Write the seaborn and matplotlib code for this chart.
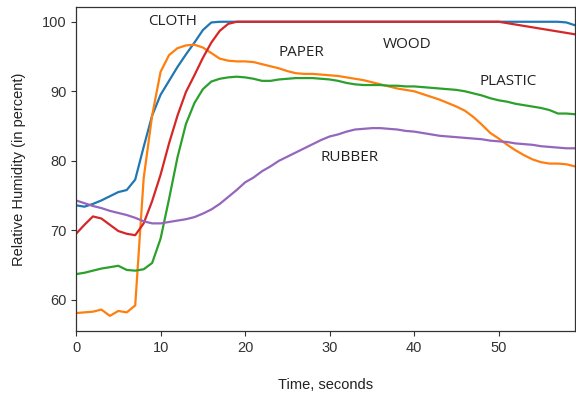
import matplotlib
matplotlib.use("Agg")
import matplotlib.pyplot as plt
import seaborn as sns
import pandas as pd

# Time axis in seconds
time_s = [0, 1, 2, 3, 4, 5, 6, 7, 8, 9,
          10, 11, 12, 13, 14, 15, 16, 17, 18, 19,
          20, 21, 22, 23, 24, 25, 26, 27, 28, 29,
          30, 31, 32, 33, 34, 35, 36, 37, 38, 39,
          40, 41, 42, 43, 44, 45, 46, 47, 48, 49,
          50, 51, 52, 53, 54, 55, 56, 57, 58, 59]

# Relative humidity readings (percent) for each material
cloth = [73.6, 73.4, 73.8, 74.3, 74.9, 75.5, 75.8, 77.3, 82.0, 86.5,
         89.5, 91.5, 93.5, 95.3, 97.0, 98.8, 99.9, 100.0, 100.0, 100.0,
         100.0, 100.0, 100.0, 100.0, 100.0, 100.0, 100.0, 100.0, 100.0, 100.0,
         100.0, 100.0, 100.0, 100.0, 100.0, 100.0, 100.0, 100.0, 100.0, 100.0,
         100.0, 100.0, 100.0, 100.0, 100.0, 100.0, 100.0, 100.0, 100.0, 100.0,
         100.0, 100.0, 100.0, 100.0, 100.0, 100.0, 100.0, 100.0, 99.9, 99.5]

paper = [58.1, 58.2, 58.3, 58.6, 57.7, 58.4, 58.2, 59.2, 77.5, 86.5,
         92.8, 95.2, 96.2, 96.6, 96.7, 96.3, 95.5, 94.7, 94.4, 94.3,
         94.3, 94.2, 93.9, 93.6, 93.3, 92.9, 92.6, 92.5, 92.5, 92.4,
         92.3, 92.2, 92.0, 91.8, 91.6, 91.3, 91.0, 90.7, 90.4, 90.2,
         90.0, 89.6, 89.2, 88.8, 88.3, 87.8, 87.2, 86.3, 85.2, 84.0,
         83.2, 82.3, 81.5, 80.8, 80.2, 79.8, 79.6, 79.6, 79.5, 79.2]

plastic = [63.7, 63.9, 64.2, 64.5, 64.7, 64.9, 64.3, 64.2, 64.4, 65.3,
           68.8, 74.5, 80.5, 85.3, 88.3, 90.3, 91.4, 91.8, 92.0, 92.1,
           92.0, 91.8, 91.5, 91.5, 91.7, 91.8, 91.9, 91.9, 91.9, 91.8,
           91.7, 91.5, 91.2, 91.0, 90.9, 90.9, 90.9, 90.8, 90.8, 90.7,
           90.7, 90.6, 90.5, 90.4, 90.3, 90.2, 90.0, 89.7, 89.4, 89.0,
           88.7, 88.5, 88.2, 88.0, 87.8, 87.6, 87.3, 86.8, 86.8, 86.7]

wood = [69.5, 70.8, 72.0, 71.7, 70.8, 69.9, 69.5, 69.3, 71.0, 74.2,
        78.0, 82.5, 86.5, 89.9, 92.3, 94.8, 97.0, 98.7, 99.7, 100.0,
        100.0, 100.0, 100.0, 100.0, 100.0, 100.0, 100.0, 100.0, 100.0, 100.0,
        100.0, 100.0, 100.0, 100.0, 100.0, 100.0, 100.0, 100.0, 100.0, 100.0,
        100.0, 100.0, 100.0, 100.0, 100.0, 100.0, 100.0, 100.0, 100.0, 100.0,
        100.0, 99.8, 99.6, 99.4, 99.2, 99.0, 98.8, 98.6, 98.4, 98.2]

rubber = [74.3, 73.9, 73.5, 73.2, 72.8, 72.5, 72.2, 71.8, 71.3, 71.0,
          71.0, 71.2, 71.4, 71.6, 71.9, 72.4, 73.0, 73.8, 74.8, 75.8,
          76.9, 77.6, 78.5, 79.2, 80.0, 80.6, 81.2, 81.8, 82.4, 83.0,
          83.5, 83.8, 84.2, 84.5, 84.6, 84.7, 84.7, 84.6, 84.5, 84.3,
          84.2, 84.0, 83.8, 83.6, 83.5, 83.4, 83.3, 83.2, 83.1, 82.9,
          82.8, 82.7, 82.5, 82.4, 82.3, 82.1, 82.0, 81.9, 81.8, 81.8]

materials = ["CLOTH", "PAPER", "PLASTIC", "WOOD", "RUBBER"]
series = [cloth, paper, plastic, wood, rubber]

# Label positions (time, humidity) for the in-plot material names,
# in the same order as `materials`
label_x = [11.4, 26.7, 51.1, 39.2, 32.4]
label_y = [100.1, 95.6, 91.4, 96.8, 80.5]

frames = [pd.DataFrame({"time": time_s, "humidity": vals, "material": name})
          for name, vals in zip(materials, series)]
df = pd.concat(frames, ignore_index=True)

sns.set_style("ticks")
plt.rcParams["font.family"] = ["Liberation Sans", "DejaVu Sans"]

fig = plt.figure(figsize=(5.76, 3.98), dpi=100)
ax = fig.add_axes([0.132, 0.168, 0.866, 0.814])

palette = sns.color_palette("tab10", 5)
sns.lineplot(data=df, x="time", y="humidity", hue="material",
             hue_order=materials, palette=palette, linewidth=1.6,
             legend=False, ax=ax)

for name, x, y in zip(materials, label_x, label_y):
    ax.text(x, y, name, ha="center", va="center", fontsize=11,
            family=["Open Sans", "DejaVu Sans"], color="#222222")

ax.set_xlim(0, 59)
ax.set_ylim(55.5, 102.1)
ax.set_xticks([0, 10, 20, 30, 40, 50])
ax.set_yticks([60, 70, 80, 90, 100])
ax.tick_params(labelsize=10.5, colors="#333333", length=3.5, width=0.8)
for spine in ax.spines.values():
    spine.set_color("#333333")
    spine.set_linewidth(0.9)

ax.set_xlabel("Time, seconds", fontsize=10.5, color="#222222", labelpad=17)
ax.set_ylabel("Relative Humidity (in percent)", fontsize=10.5, color="#222222", labelpad=11)

fig.savefig("out.png", dpi=100)
